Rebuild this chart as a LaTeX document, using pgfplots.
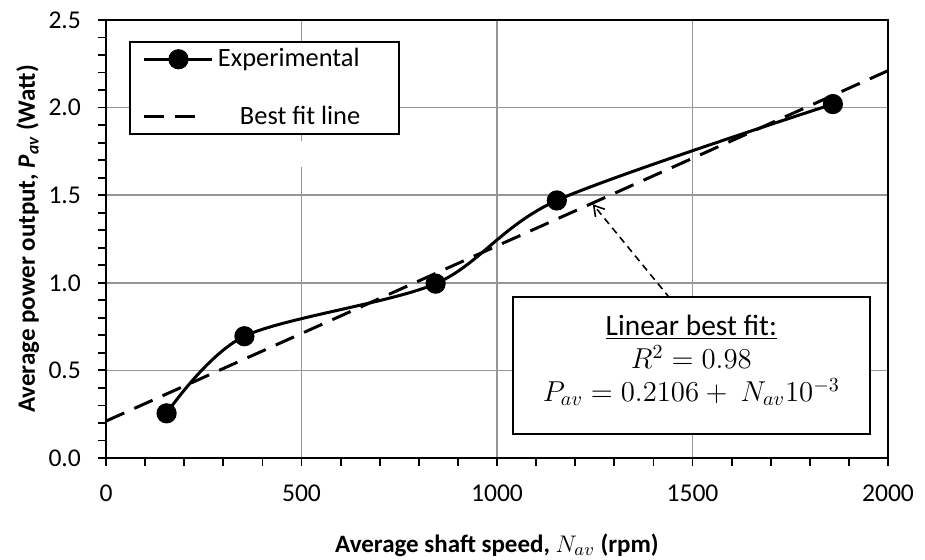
\documentclass[border=0pt]{standalone}
\usepackage{pgfplots}
\pgfplotsset{compat=1.18}
\usepackage{fontspec}
\setmainfont{Carlito}
\usetikzlibrary{arrows.meta}
\definecolor{gridgray}{RGB}{150,150,150}
\pgfplotsset{dashlegend/.style={legend image code/.code={\draw[##1] (0pt,0pt) -- (29pt,0pt);}}}
\begin{document}
\begin{tikzpicture}
\begin{axis}[
  scale only axis, width=391pt, height=219pt,
  xmin=0, xmax=2000, ymin=0, ymax=2.5,
  xtick={0,500,1000,1500,2000}, ytick={0,0.5,1,1.5,2,2.5},
  minor x tick num=4, minor y tick num=4,
  xtick pos=bottom, ytick pos=left, tick align=outside,
  major tick length=4pt, minor tick length=4pt,
  tick style={black, line width=0.9pt},
  axis line style={black, line width=1.4pt},
  grid=major, major grid style={gridgray, line width=0.8pt},
  /pgf/number format/assume math mode=true,
  /pgf/number format/1000 sep={},
  yticklabel={\pgfmathprintnumber[fixed,fixed zerofill,precision=1]{\tick}},
  yticklabel style={font=\fontsize{12.8}{14}\selectfont, xshift=-5pt},
  xticklabel style={font=\fontsize{12.8}{14}\selectfont, yshift=-6pt},
  every axis x label/.style={at={(axis description cs:0.5,-0.199)}, anchor=center},
  every axis y label/.style={at={(axis description cs:-0.1,0.5)}, rotate=90, anchor=center},
  label style={font=\bfseries\fontsize{12.5}{15}\selectfont},
  xlabel={Average shaft speed, $N_{av}$ (rpm)},
  ylabel={Average power output, \textit{P\textsubscript{av}} (Watt)},
  legend style={at={(rel axis cs:0.0294,0.953)}, anchor=north west, draw=black, line width=1pt, fill=white,
    font=\fontsize{13.2}{15}\selectfont, inner xsep=6.5pt, inner ysep=2.5pt, row sep=16pt,
    nodes={inner ysep=1pt}},
  legend cell align=left,
  legend image code/.code={\draw[mark repeat=2,mark phase=2,#1] plot coordinates {(0pt,0pt)(17pt,0pt)(34pt,0pt)};},
]
\fill[white] (axis cs:61,1.81) rectangle (axis cs:777,1.66);
\addplot[black, line width=1.5pt, smooth, mark=*, mark size=4.3pt, mark options={solid}]
  coordinates {(155,0.255) (354,0.695) (843,0.995) (1153,1.47) (1859,2.02)};
\addlegendentry{Experimental\hspace{11pt}\mbox{}}
\addplot[black, line width=1.5pt, dash pattern=on 10pt off 5.5pt, dashlegend]
  coordinates {(0,0.2106) (2000,2.2106)};
\addlegendentry{\hspace{11pt}Best fit line\hspace{8pt}\mbox{}}
\draw[black, line width=0.8pt, dash pattern=on 3.5pt off 2.5pt, -{Straight Barb[length=5pt,width=6pt]}]
  (axis cs:1520,0.7) -- (axis cs:1245,1.449);
\draw[black, line width=1.1pt, fill=white] (axis cs:1041,0.136) rectangle (axis cs:1954,0.92);
\node[align=center, font=\fontsize{14.7}{16.5}\selectfont] at (axis cs:1497,0.557)
  {\underline{Linear best fit:}\\ $R^2 = 0.98$\\ $P_{av} = 0.2106 +\ N_{av}10^{-3}$};
\end{axis}
\pgfresetboundingbox
\path ([shift={(-53pt,-51pt)}]current axis.south west) rectangle ([shift={(18.5pt,10pt)}]current axis.north east);
\end{tikzpicture}
\end{document}
